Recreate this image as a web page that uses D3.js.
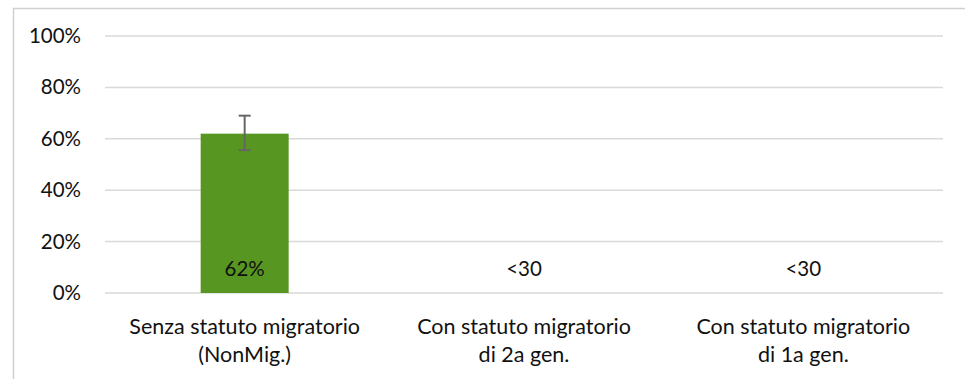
<!DOCTYPE html>
<html><head><meta charset="utf-8">
<script src="https://cdn.jsdelivr.net/npm/d3@7"></script>
<style>html,body{margin:0;padding:0;background:#fff;}svg{display:block;}</style>
</head><body>
<script>
const categories = [["Senza statuto migratorio","(NonMig.)"],["Con statuto migratorio","di 2a gen."],["Con statuto migratorio","di 1a gen."]];
const values = [0.62, null, null];
const errLow = [0.556, null, null];
const errHigh = [0.69, null, null];
const barLabels = ["62%", "<30", "<30"];
const yTicks = [0, 0.2, 0.4, 0.6, 0.8, 1.0];

(function () {
const W = 965, H = 379;
const font = "Lato, 'Open Sans', sans-serif";
const svg = d3.select("body").append("svg").attr("width", W).attr("height", H);
svg.append("rect").attr("x", 13.5).attr("y", 8.5).attr("width", W).attr("height", H)
  .attr("fill", "none").attr("stroke", "#d0d0d0").attr("stroke-width", 1.5);

const mL = 105, mR = 943, mT = 36, mB = 293;
const x = d3.scaleBand().domain(d3.range(categories.length)).range([mL, mR]).paddingInner(0).paddingOuter(0);
const y = d3.scaleLinear().domain([0, 1]).range([mB, mT]);

const grid = svg.append("g");
yTicks.forEach(t => {
  grid.append("line").attr("x1", mL).attr("x2", mR).attr("y1", y(t)).attr("y2", y(t))
    .attr("stroke", "#d9d9d9").attr("stroke-width", 1.5);
});

const yAxis = d3.axisLeft(y).tickValues(yTicks).tickFormat(d3.format(".0%")).tickSize(0).tickPadding(24);
const ya = svg.append("g").attr("transform", `translate(${mL},0)`).call(yAxis);
ya.select(".domain").remove();
ya.selectAll("text").attr("font-family", font).attr("font-size", 20.5).attr("fill", "#111");

const bw = x.bandwidth() * 0.315;
categories.forEach((c, i) => {
  const cx = x(i) + x.bandwidth() / 2;
  if (values[i] != null) {
    svg.append("rect").attr("x", cx - bw / 2).attr("y", y(values[i])).attr("width", bw)
      .attr("height", y(0) - y(values[i])).attr("fill", "#579620");
    const g = svg.append("g").attr("stroke", "#666").attr("stroke-width", 2);
    g.append("line").attr("x1", cx).attr("x2", cx).attr("y1", y(errHigh[i])).attr("y2", y(errLow[i]));
    g.append("line").attr("x1", cx - 6).attr("x2", cx + 6).attr("y1", y(errHigh[i])).attr("y2", y(errHigh[i]));
    g.append("line").attr("x1", cx - 6).attr("x2", cx + 6).attr("y1", y(errLow[i])).attr("y2", y(errLow[i]));
  }
  svg.append("text").attr("x", cx).attr("y", 276).attr("text-anchor", "middle")
    .attr("font-family", font).attr("font-size", 20.5).attr("fill", "#111").text(barLabels[i]);
  c.forEach((line, j) => {
    svg.append("text").attr("x", cx).attr("y", 333.5 + j * 28).attr("text-anchor", "middle")
      .attr("font-family", font).attr("font-size", 21.5).attr("fill", "#111").text(line);
  });
});
})();
</script>
</body></html>
